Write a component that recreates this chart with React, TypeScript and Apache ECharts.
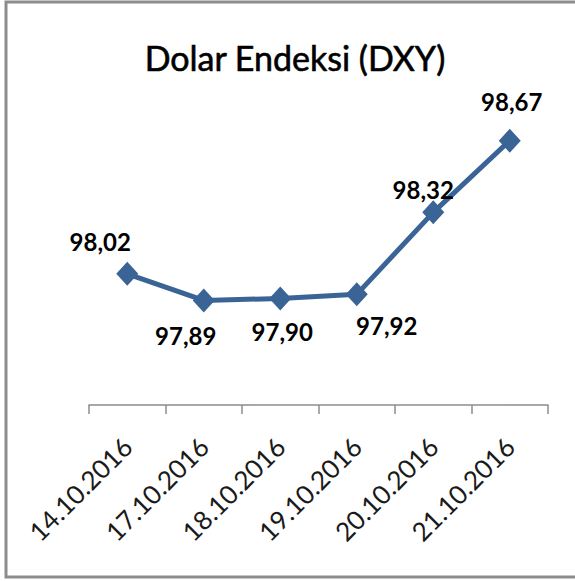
import React, { useEffect, useRef } from "react";
import * as echarts from "echarts";

const categories = ["14.10.2016", "17.10.2016", "18.10.2016", "19.10.2016", "20.10.2016", "21.10.2016"];
const values = [98.02, 97.89, 97.9, 97.92, 98.32, 98.67];
const labelOffsets: [number, number][] = [
  [-27, -32],
  [-18, 35],
  [2, 33],
  [30, 31],
  [-10, -23],
  [2, -39],
];
const titleText = "Dolar Endeksi (DXY)";

export default function App() {
  const ref = useRef<HTMLDivElement>(null);
  useEffect(() => {
    if (!ref.current) return;
    const chart = echarts.init(ref.current, null, { renderer: "svg" });
    const color = "#3A6496";
    chart.setOption({
      animation: false,
      backgroundColor: "#ffffff",
      graphic: [
        {
          type: "rect",
          shape: { x: 6, y: 2, width: 600, height: 575 },
          style: { fill: "none", stroke: "#8c8c8c", lineWidth: 3 },
          z: 100,
        },
        {
          type: "text",
          x: 295,
          y: 57,
          style: {
            text: titleText,
            fontFamily: "Lato",
            fontSize: 34,
            fontWeight: "normal",
            fill: "#000000",
            stroke: "#000000",
            lineWidth: 0.6,
            align: "center",
            verticalAlign: "middle",
          },
        },
      ],
      grid: { left: 89, right: 27, top: 114, bottom: 176 },
      xAxis: {
        type: "category",
        data: categories,
        boundaryGap: true,
        axisLine: { show: true, lineStyle: { color: "#8c8c8c", width: 1.5 } },
        axisTick: { show: true, length: 9, alignWithLabel: false, lineStyle: { color: "#8c8c8c", width: 1.5 } },
        axisLabel: {
          rotate: 45,
          margin: 37,
          interval: 0,
          fontFamily: "Lato",
          fontSize: 26,
          color: "#1a1a1a",
        },
      },
      yAxis: {
        type: "value",
        min: 97.38,
        max: 98.8,
        show: false,
        splitLine: { show: false },
      },
      series: [
        {
          type: "line",
          data: values.map((v, i) => ({
            value: v,
            label: { offset: labelOffsets[i] },
          })),
          symbol: "diamond",
          symbolSize: [22, 24],
          lineStyle: { color, width: 5 },
          itemStyle: { color },
          label: {
            show: true,
            position: "inside",
            fontFamily: "Lato",
            fontSize: 24,
            fontWeight: "bold",
            color: "#000000",
            formatter: (p: any) => p.value.toFixed(2).replace(".", ","),
          },
        },
      ],
    });
    return () => chart.dispose();
  }, []);
  return (
    <div
      ref={ref}
      style={{ position: "fixed", left: 0, top: 0, width: 575, height: 581 }}
    />
  );
}
